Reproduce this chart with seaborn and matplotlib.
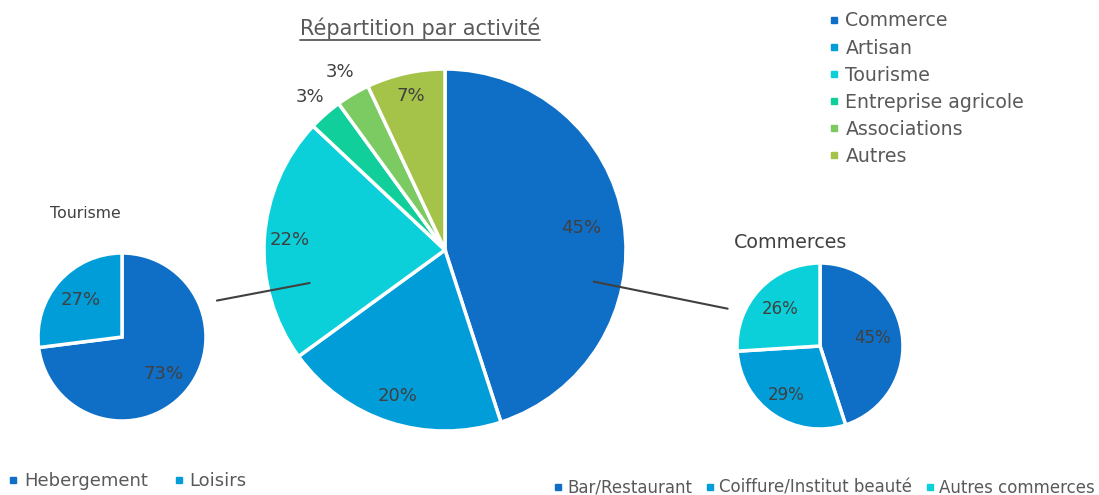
import numpy as np
import matplotlib
matplotlib.use("Agg")
import matplotlib.pyplot as plt
from matplotlib.lines import Line2D
import seaborn as sns

# ---- data ----
main_labels = ["Commerce", "Artisan", "Tourisme", "Entreprise agricole", "Associations", "Autres"]
main_values = [45, 20, 22, 3, 3, 7]
main_colors = ["#0F6FC6", "#009DD9", "#0BD0D9", "#10CF9B", "#7CCA62", "#A5C249"]

tour_labels = ["Hebergement", "Loisirs"]
tour_values = [73, 27]
tour_colors = ["#0F6FC6", "#009DD9"]

comm_labels = ["Bar/Restaurant", "Coiffure/Institut beauté", "Autres commerces"]
comm_values = [45, 29, 26]
comm_colors = ["#0F6FC6", "#009DD9", "#0BD0D9"]

sns.set_theme(style="white")
plt.rcParams["font.family"] = ["DejaVu Sans"]

W, H = 1099, 495
fig = plt.figure(figsize=(W / 100, H / 100), dpi=100)
ax = fig.add_axes([0, 0, 1, 1])

LBL = "#404040"
TXT = "#595959"
wp = dict(edgecolor="white", linewidth=2.5)


def draw_pie(values, colors, center, radius, dists, fs):
    wedges, _ = ax.pie(values, colors=colors, startangle=90, counterclock=False,
                       center=center, radius=radius, wedgeprops=wp, frame=True)
    total = sum(values)
    for w, v, d in zip(wedges, values, dists):
        mid = np.deg2rad((w.theta1 + w.theta2) / 2)
        x = center[0] + d * radius * np.cos(mid)
        y = center[1] + d * radius * np.sin(mid)
        ax.text(x, y, f"{round(100 * v / total)}%", ha="center", va="center",
                fontsize=fs, color=LBL)
    return wedges


main_c, main_r = (445, 245), 181
tour_c, tour_r = (122, 158), 84
comm_c, comm_r = (820, 149), 83

draw_pie(main_values, main_colors, main_c, main_r, [0.76, 0.85, 0.86, 1.13, 1.14, 0.87], 13)
draw_pie(tour_values, tour_colors, tour_c, tour_r, [0.66, 0.66], 13)
draw_pie(comm_values, comm_colors, comm_c, comm_r, [0.64, 0.72, 0.66], 12)

ax.set_xlim(0, W)
ax.set_ylim(0, H)
ax.set_aspect("equal")
ax.axis("off")


def polar(c, r, ang):
    a = np.deg2rad(ang)
    return c[0] + r * np.cos(a), c[1] + r * np.sin(a)

# connector lines
p1 = polar(tour_c, tour_r * 1.21, 21)
p2 = polar(main_c, main_r * 0.77, 193.7)
ax.plot([p1[0], p2[0]], [p1[1], p2[1]], color=LBL, lw=1.5)
p3 = polar(main_c, main_r * 0.84, -12)
p4 = polar(comm_c, comm_r * 1.2, 158)
ax.plot([p3[0], p4[0]], [p3[1], p4[1]], color=LBL, lw=1.5)

# titles
t = ax.text(420, H - 28, "Répartition par activité", ha="center", va="center",
            fontsize=15, color=TXT)
fig.canvas.draw()
bb = t.get_window_extent(fig.canvas.get_renderer())
ax.plot([bb.x0, bb.x1], [bb.y0 - 1, bb.y0 - 1], color=TXT, lw=1.3)

ax.text(50, H - 213, "Tourisme", ha="left", va="center", fontsize=11.3, color=LBL)
ax.text(734, H - 243, "Commerces", ha="left", va="center", fontsize=13.7, color=LBL)


def handles(colors):
    return [Line2D([], [], marker="s", linestyle="none", markersize=5,
                   markerfacecolor=c, markeredgecolor=c) for c in colors]

leg1 = fig.legend(handles(main_colors), main_labels, loc="upper left",
                  bbox_to_anchor=(819 / W, 1 - 2 / H), frameon=False,
                  fontsize=13.6, labelcolor=TXT, handlelength=0.6,
                  handletextpad=0.3, labelspacing=0.43, borderpad=0)

leg2 = fig.legend(handles(tour_colors), tour_labels, loc="center left",
                  bbox_to_anchor=(-1 / W, 1 - 481 / H), frameon=False, ncol=2,
                  fontsize=13, labelcolor=TXT, handlelength=0.6,
                  handletextpad=0.3, columnspacing=1.4, borderpad=0)

leg3 = fig.legend(handles(comm_colors), comm_labels, loc="center left",
                  bbox_to_anchor=(545 / W, 1 - 488 / H), frameon=False, ncol=3,
                  fontsize=12, labelcolor=TXT, handlelength=0.6,
                  handletextpad=0.25, columnspacing=0.75, borderpad=0)

fig.savefig("out.png", dpi=100)
